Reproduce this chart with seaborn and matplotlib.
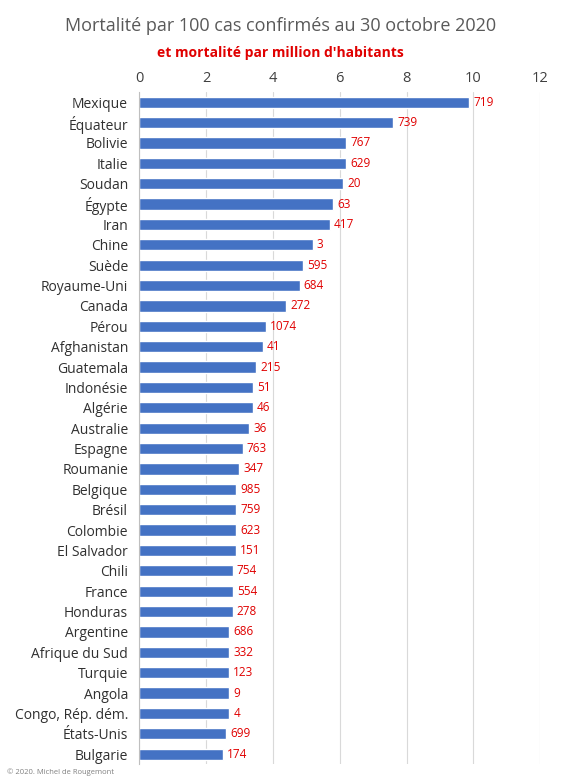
import matplotlib
matplotlib.use("Agg")
import matplotlib.pyplot as plt
import seaborn as sns
import pandas as pd

countries = ["Mexique", "Équateur", "Bolivie", "Italie", "Soudan", "Égypte", "Iran", "Chine",
             "Suède", "Royaume-Uni", "Canada", "Pérou", "Afghanistan", "Guatemala", "Indonésie",
             "Algérie", "Australie", "Espagne", "Roumanie", "Belgique", "Brésil", "Colombie",
             "El Salvador", "Chili", "France", "Honduras", "Argentine", "Afrique du Sud",
             "Turquie", "Angola", "Congo, Rép. dém.", "États-Unis", "Bulgarie"]
mortality = [9.87, 7.6, 6.2, 6.2, 6.1, 5.8, 5.7, 5.2, 4.9, 4.8, 4.4, 3.8, 3.7, 3.5, 3.4,
             3.4, 3.3, 3.1, 3.0, 2.9, 2.9, 2.9, 2.9, 2.8, 2.8, 2.8, 2.7, 2.7, 2.7, 2.7,
             2.7, 2.6, 2.5]
per_million = [719, 739, 767, 629, 20, 63, 417, 3, 595, 684, 272, 1074, 41, 215, 51, 46, 36,
               763, 347, 985, 759, 623, 151, 754, 554, 278, 686, 332, 123, 9, 4, 699, 174]

df = pd.DataFrame({"pays": countries, "mort": mortality, "pm": per_million})

sns.set_style("white")
plt.rcParams['font.family'] = ['Open Sans', 'DejaVu Sans']

fig = plt.figure(figsize=(5.61, 7.8), dpi=100)
ax = fig.add_axes([0.248, 0.02, 0.715, 0.862])
sns.barplot(data=df, x="mort", y="pays", color="#4472C4", saturation=1, width=0.55, ax=ax)

for i, (v, pm) in enumerate(zip(mortality, per_million)):
    ax.text(v + 0.12, i, str(pm), color="#E00000", va="center", ha="left", fontsize=8.5)

ax.set_xlim(0, 12)
ax.set_xticks(range(0, 13, 2))
ax.xaxis.tick_top()
ax.xaxis.set_label_position("top")
ax.grid(axis="x", color="#D9D9D9", linewidth=0.8)
ax.set_axisbelow(True)
ax.set_xlabel("")
ax.set_ylabel("")
ax.tick_params(axis="x", length=0, labelsize=10.5, colors="#404040", pad=4)
ax.tick_params(axis="y", length=0, labelsize=10, colors="#303030", pad=8)
for s in ["top", "right", "bottom"]:
    ax.spines[s].set_visible(False)
ax.spines["left"].set_color("#BFBFBF")

fig.text(0.5, 0.967, "Mortalité par 100 cas confirmés au 30 octobre 2020", ha="center",
         va="center", fontsize=13, color="#595959")
fig.text(0.5, 0.932, "et mortalité par million d'habitants", ha="center", va="center",
         fontsize=10, color="#E00000", fontweight="bold")
fig.text(0.012, 0.008, "© 2020. Michel de Rougemont", fontsize=5.5, color="#808080")

fig.savefig("out.png", dpi=100)
